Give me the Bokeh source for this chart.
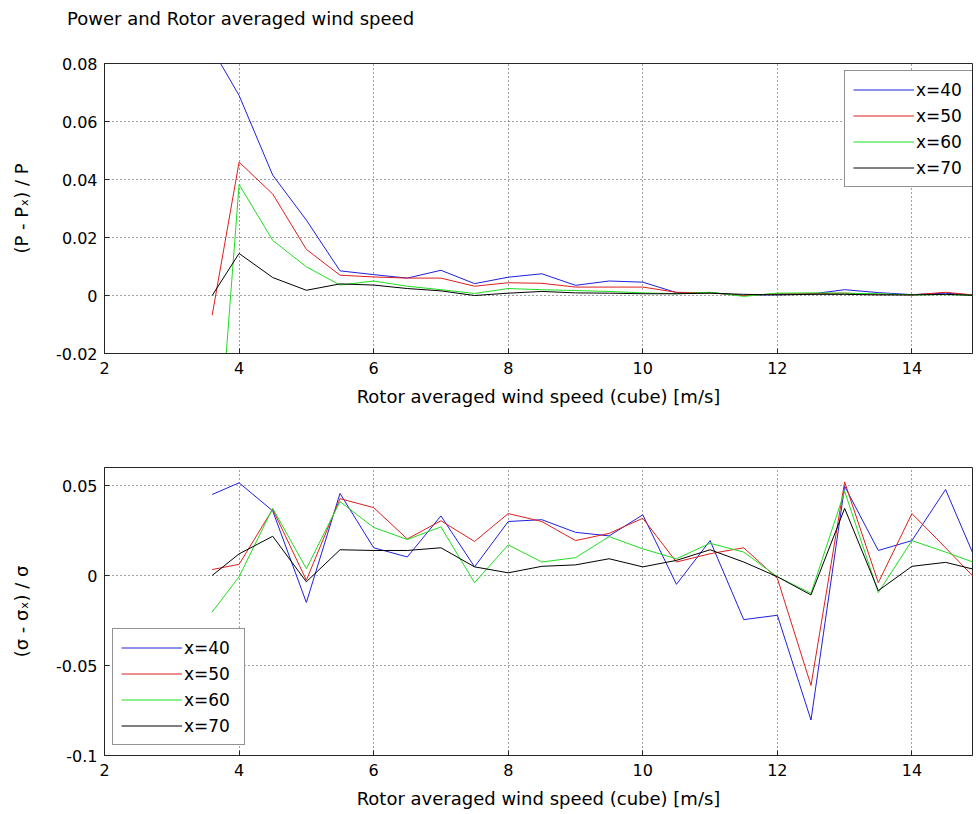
from bokeh.plotting import figure
from bokeh.layouts import column
from bokeh.models import (FixedTicker, CustomJSTickFormatter, Legend,
                          LegendItem, Range1d, Div)
from bokeh.embed import file_html
from bokeh.resources import INLINE

FONT = "DejaVu Sans"

# ---------------- data ----------------
wind = [3.6, 4.0, 4.5, 5.0, 5.5, 6.0, 6.5, 7.0, 7.5, 8.0, 8.5, 9.0,
        9.5, 10.0, 10.5, 11.0, 11.5, 12.0, 12.5, 13.0, 13.5, 14.0, 14.5, 15.0]

series_names = ["x=40", "x=50", "x=60", "x=70"]

power_x40 = [0.085, 0.069, 0.0415, 0.026, 0.0085, 0.0072, 0.006, 0.0087, 0.0041, 0.0063, 0.0075, 0.0035,
             0.005, 0.0046, 0.001, 0.001, 0.0, 0.0003, 0.0005, 0.002, 0.001, 0.0003, 0.0008, 0.0]
power_x50 = [-0.0068, 0.046, 0.035, 0.0159, 0.007, 0.0064, 0.006, 0.006, 0.0032, 0.0044, 0.0042, 0.0029,
             0.0029, 0.0029, 0.0011, 0.0009, 0.0, 0.0006, 0.0006, 0.0008, 0.0004, 0.0002, 0.0011, 0.0]
power_x60 = [-0.084, 0.0383, 0.019, 0.0099, 0.0036, 0.005, 0.0032, 0.002, 0.0007, 0.0024, 0.002, 0.0017,
             0.0014, 0.0009, 0.0006, 0.0011, -0.0003, 0.0008, 0.0009, 0.0008, 0.0006, 0.0002, 0.0003, 0.0]
power_x70 = [0.0, 0.0145, 0.0062, 0.0018, 0.004, 0.0036, 0.0024, 0.0016, 0.0, 0.0008, 0.0014, 0.0009,
             0.0008, 0.0006, 0.0006, 0.0008, 0.0004, 0.0002, 0.0004, 0.0004, 0.0002, 0.0002, 0.0004, 0.0]

sigma_x40 = [0.045, 0.0515, 0.0359, -0.015, 0.0456, 0.0154, 0.0103, 0.0331, 0.0048, 0.030, 0.031, 0.024,
             0.022, 0.0337, -0.0049, 0.0194, -0.0245, -0.0221, -0.0803, 0.0496, 0.0139, 0.0194, 0.0478, 0.004]
sigma_x50 = [0.0033, 0.0062, 0.0368, -0.0026, 0.0427, 0.0377, 0.0203, 0.0304, 0.0189, 0.0344, 0.030, 0.0194,
             0.0234, 0.0318, 0.0075, 0.0121, 0.0154, -0.0016, -0.0611, 0.052, -0.004, 0.0344, 0.0154, -0.004]
sigma_x60 = [-0.0203, -0.0007, 0.0373, 0.0038, 0.041, 0.0267, 0.020, 0.027, -0.004, 0.017, 0.0075, 0.0099,
             0.0216, 0.0148, 0.0093, 0.0179, 0.013, -0.0007, -0.0099, 0.0468, -0.0095, 0.0194, 0.013, 0.0062]
sigma_x70 = [0.0, 0.012, 0.0218, -0.0035, 0.0143, 0.0139, 0.0139, 0.0154, 0.0048, 0.0015, 0.0051, 0.0059,
             0.0093, 0.0048, 0.0084, 0.0143, 0.0075, -0.0007, -0.0108, 0.0373, -0.0084, 0.0051, 0.0073, 0.0027]

x_ticks = [2, 4, 6, 8, 10, 12, 14]
power_ticks = [-0.02, 0.0, 0.02, 0.04, 0.06, 0.08]
sigma_ticks = [-0.1, -0.05, 0.0, 0.05]

colors = ["#1f1fdd", "#dd1f1f", "#1fdd1f", "#000000"]

title_text = "Power and Rotor averaged wind speed"
xlabel = "Rotor averaged wind speed (cube) [m/s]"
ylabel_power = "(P - P\u2093) / P"
ylabel_sigma = "(\u03c3 - \u03c3\u2093) / \u03c3"


def make_fig(ys, yrange, yticks, ylabel, legend_loc, border_top, border_bottom, frame_h):
    p = figure(frame_width=868, frame_height=frame_h,
               x_range=Range1d(2, 14.9), y_range=Range1d(*yrange),
               output_backend="svg", toolbar_location=None,
               min_border_left=104, min_border_right=2,
               min_border_top=border_top, min_border_bottom=border_bottom,
               background_fill_color="white", border_fill_color="white")
    p.outline_line_color = "#262626"
    p.outline_line_width = 1

    for ax in (p.xaxis[0], p.yaxis[0]):
        ax.major_tick_in = 5
        ax.major_tick_out = 0
        ax.minor_tick_in = 0
        ax.minor_tick_out = 0
        ax.axis_line_color = "#262626"
        ax.major_tick_line_color = "#262626"
        ax.major_label_text_font = FONT
        ax.major_label_text_font_size = "16px"
        ax.major_label_text_color = "black"
        ax.axis_label_text_font = FONT
        ax.axis_label_text_font_size = "18px"
        ax.axis_label_text_font_style = "normal"
        ax.axis_label_text_color = "black"

    p.xaxis[0].ticker = FixedTicker(ticks=x_ticks)
    p.yaxis[0].ticker = FixedTicker(ticks=yticks)
    p.yaxis[0].formatter = CustomJSTickFormatter(code="return Number(tick.toFixed(4)).toString();")
    p.xaxis[0].axis_label = xlabel
    p.yaxis[0].axis_label = ylabel
    p.xaxis[0].major_label_standoff = 8
    p.xaxis[0].axis_label_standoff = 9
    p.yaxis[0].major_label_standoff = 7
    p.yaxis[0].axis_label_standoff = 21

    for g in (p.xgrid[0], p.ygrid[0]):
        g.grid_line_color = "#404040"
        g.grid_line_dash = "1 3"
        g.grid_line_width = 1
    p.xgrid[0].ticker = FixedTicker(ticks=x_ticks)
    p.ygrid[0].ticker = FixedTicker(ticks=yticks)

    items = []
    for y, c, name in zip(ys, colors, series_names):
        r = p.line(wind, y, line_color=c, line_width=1, line_dash="solid")
        items.append(LegendItem(label=name, renderers=[r]))

    legend = Legend(items=items, location=legend_loc, margin=0,
                    label_text_font=FONT, label_text_font_size="17px",
                    label_text_color="black",
                    glyph_width=61, glyph_height=21, label_height=21, label_width=52,
                    label_standoff=2, spacing=5, padding=8,
                    border_line_color="#262626", border_line_width=1,
                    background_fill_color="white", background_fill_alpha=1.0)
    p.add_layout(legend, "center")
    return p


title_div = Div(text=title_text, width=974, height=30, margin=(0, 0, 0, 0),
                styles={"font-family": FONT, "font-size": "18px", "line-height": "21px",
                        "color": "black", "padding-left": "67px", "padding-top": "8px",
                        "box-sizing": "border-box", "white-space": "nowrap"})

p1 = make_fig([power_x40, power_x50, power_x60, power_x70], (-0.02, 0.08), power_ticks,
              ylabel_power, (740, 166), 33, 60, 290)
p2 = make_fig([sigma_x40, sigma_x50, sigma_x60, sigma_x70], (-0.1, 0.06), sigma_ticks,
              ylabel_sigma, (8, 10), 54, 56, 288)

layout = column(title_div, p1, p2, spacing=0)

open("out.html", "w").write(file_html(layout, INLINE))
